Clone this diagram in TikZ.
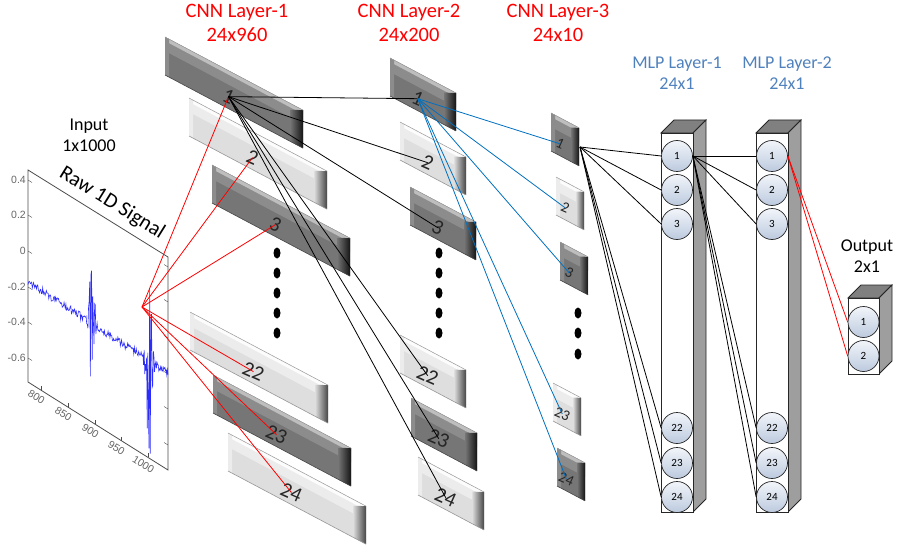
\documentclass[tikz,border=0pt]{standalone}
\usepackage{fontspec}
\setmainfont{Carlito}
\newfontfamily\plotfont{Liberation Sans}
\usetikzlibrary{positioning}

\definecolor{cnnred}{RGB}{255,0,0}
\definecolor{mlpblue}{RGB}{79,129,189}
\definecolor{linkblue}{RGB}{0,112,192}
\definecolor{sigblue}{RGB}{45,45,250}
\definecolor{darkface}{RGB}{118,118,118}
\definecolor{darkmid}{RGB}{140,140,140}
\definecolor{darktop}{RGB}{190,190,190}
\definecolor{darkend}{RGB}{20,20,20}
\definecolor{darkedge}{RGB}{70,70,70}
\definecolor{lightface}{RGB}{222,222,222}
\definecolor{lightmid}{RGB}{236,236,236}
\definecolor{lighttop}{RGB}{252,252,252}
\definecolor{lightend}{RGB}{70,70,70}
\definecolor{lightedge}{RGB}{150,150,150}
\definecolor{topgray}{RGB}{128,128,128}
\definecolor{sidegray}{RGB}{158,158,158}
\definecolor{celltop}{RGB}{242,245,250}
\definecolor{cellbot}{RGB}{188,202,222}

\begin{document}
\begin{tikzpicture}[x=1pt, y=-1pt,
	cnntitle/.style = {text=cnnred, align=center, font=\fontsize{20.5}{24}\selectfont},
	mlptitle/.style = {text=mlpblue, align=center, font=\fontsize{18}{21}\selectfont},
	iotitle/.style = {align=center, font=\fontsize{18}{21}\selectfont},
	maplabel/.style = {text=black!85, rotate=-24, inner sep=0pt, font=\fontsize{#1}{#1}\selectfont},
	plottick/.style = {text=black!60, inner sep=1pt, font=\plotfont\fontsize{10.5}{11}\selectfont},
	neuron/.style = {circle, draw=black!85, line width=0.7pt, minimum size=31pt, inner sep=0pt, top color=celltop, bottom color=cellbot, font=\fontsize{11}{11}\selectfont},
	colbox/.style = {draw=black!85, line width=0.8pt},
	link/.style = {line width=0.8pt}
]
\useasboundingbox (0,0) rectangle (901,556);

\node[cnntitle] (cnn1) at (237,23) {CNN Layer-1\\24x960};
\node[cnntitle] (cnn2) at (409,23) {CNN Layer-2\\24x200};
\node[cnntitle] (cnn3) at (558,23) {CNN Layer-3\\24x10};
\node[mlptitle] (mlp1) at (677,73) {MLP Layer-1\\24x1};
\node[mlptitle] (mlp2) at (787,73) {MLP Layer-2\\24x1};
\node[iotitle] (input) at (89,135) {Input\\1x1000};
\node[iotitle] (output) at (867,256) {Output\\2x1};

% input signal
\draw[black!70, line width=0.8pt] (28,170) -- (168,257) -- (168,470) -- (28,382) -- cycle;
\foreach \v/\ty in {0.4/180, 0.2/215, 0/251, -0.2/287, -0.4/322, -0.6/358} {
	\draw[black!70] (28,\ty) -- ++(4,2.5);
	\draw[black!70] (168,\ty+87) -- ++(-4,-2.5);
	\node[plottick, anchor=east] at (27,\ty) {\v};
}
\foreach \v/\tx in {800/41, 850/68, 900/95, 950/121, 1000/148} {
	\draw[black!70] (\tx,{382+(\tx-28)*0.629}) -- ++(0,-4);
	\node[plottick, rotate=-32, anchor=north] at (\tx-2,{385+(\tx-28)*0.629}) {\v};
}
\pgfmathsetseed{3}
\draw[sigblue, line width=0.6pt] plot[domain=0:140, samples=230]
	({28+\x}, {282+0.65*\x + 4*rand + 85*exp(-((\x-64)/2.8)*((\x-64)/2.8))*rand + 110*exp(-((\x-121)/3.2)*((\x-121)/3.2))*rand});
\node[rotate=-31.8, font=\fontsize{21}{21}\selectfont] (rawlabel) at (112,203) {Raw 1D Signal};
\coordinate (sig) at (142,307);

% feature maps
\foreach \ly/\len/\bev/\pos/\fsz/\bars in {
	1/138/13/.46/21/{1/165/37/dark, 2/189/98/light, 3/212/165/dark, 22/190/312/light, 23/213/375/dark, 24/228/433/light},
	2/66/12/.42/21/{1/390/58/dark, 2/400/122/light, 3/410/187/dark, 22/400/335/light, 23/411/398/dark, 24/418/457/light},
	3/28/8/.33/15/{1/551/113/dark, 2/556/177/light, 3/560/242/dark, 23/553/383/light, 24/557/448/dark}}
	\foreach \n/\x/\y/\tone in \bars {
		\fill[fill=\tone face] (\x,\y) -- ++(\len,\len*.53) -- ++(0,38) -- ++(-\len,-\len*.53) -- cycle;
		\fill[fill=\tone mid] (\x,\y) -- ++(\len,\len*.53) -- ++(0,14) -- ++(-\len,-\len*.53) -- cycle;
		\fill[fill=\tone top] (\x,\y) -- ++(\len,\len*.53) -- ++(0,4) -- ++(-\len,-\len*.53) -- cycle;
		\fill[fill=\tone mid] (\x,\y) -- ++(4,2.1) -- ++(0,38) -- ++(-4,-2.1) -- cycle;
		\shade[left color=\tone face, right color=\tone end] ({\x+\len-\bev},{\y+(\len-\bev)*.53+\bev*.5}) -- ++(\bev,\bev*.03) -- ++(0,38) -- ++(-\bev,-\bev*.53) -- cycle;
		\draw[\tone edge, line width=0.6pt] (\x,\y+38) -- ++(\len,\len*.53);
		\draw[black!40, line width=0.5pt] (\x,\y) -- ++(\len,\len*.53);
		\node[maplabel=\fsz] (l\ly-\n) at ({\x+\pos*\len},{\y+\pos*\len*.53+26}) {\n};
	}
\foreach \dy in {253,273,...,333} {
	\fill (277,\dy) ellipse (3.5 and 5.5);
	\fill (439,\dy) ellipse (3.5 and 5.5);
}
\foreach \dy in {313,333,354}
	\fill (578,\dy) ellipse (3.5 and 5.5);
\coordinate (l3-out) at (580,147);

% fully connected part
\foreach \m/\cx in {1/661, 2/756} {
	\filldraw[colbox, fill=topgray] (\cx,133) -- ++(13,-13) -- ++(32,0) -- ++(-13,13) -- cycle;
	\filldraw[colbox, fill=sidegray] (\cx+32,133) -- ++(13,-13) -- ++(0,379) -- ++(-13,13) -- cycle;
	\filldraw[colbox, fill=white] (\cx,133) rectangle ++(32,379);
	\foreach \n/\cy in {1/156, 2/190, 3/224, 22/428, 23/463, 24/497}
		\node[neuron] (m\m-\n) at (\cx+16,\cy) {\n};
}
\filldraw[colbox, fill=topgray] (848,298) -- ++(13,-13) -- ++(31,0) -- ++(-13,13) -- cycle;
\filldraw[colbox, fill=sidegray] (879,298) -- ++(13,-13) -- ++(0,76) -- ++(-13,13) -- cycle;
\filldraw[colbox, fill=white] (848,298) rectangle (879,374);
\node[neuron] (out-1) at (863.5,322) {1};
\node[neuron] (out-2) at (863.5,356) {2};

\foreach \n in {1,2,3,22,23,24} {
	\draw[link, cnnred] (sig) -- (l1-\n.center);
	\draw[link] (l1-1.center) -- (l2-\n.center);
	\draw[link] (l3-out) -- (m1-\n.west);
	\draw[link] (m1-1.east) -- (m2-\n.west);
}
\foreach \n in {1,2,3,23,24}
	\draw[link, linkblue] (l2-1.center) -- (l3-\n.center);
\foreach \n in {1,2}
	\draw[link, cnnred] (m2-1.east) -- (out-\n.west);

\end{tikzpicture}
\end{document}
